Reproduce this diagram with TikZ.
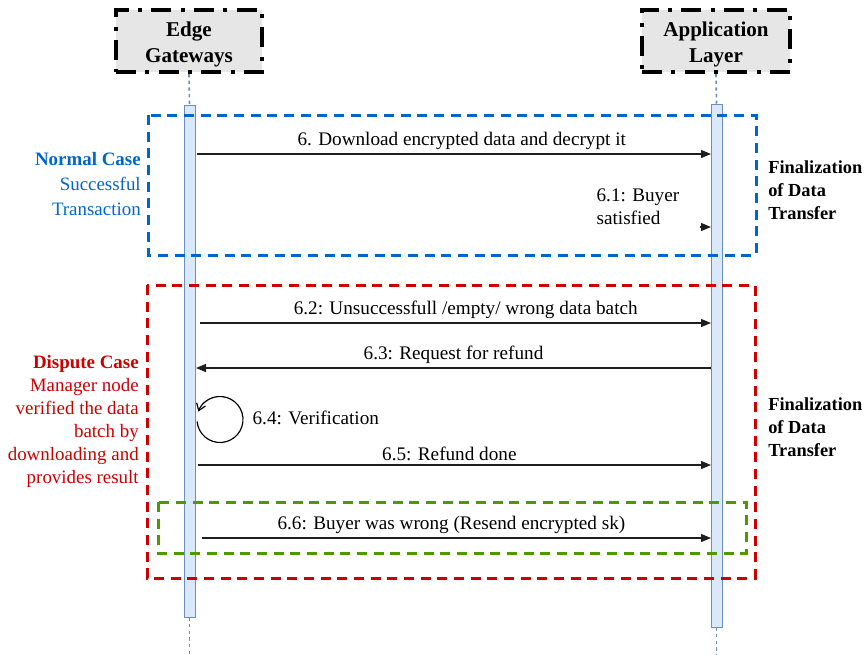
\documentclass[tikz,border=0pt]{standalone}
\usepackage{fontspec}
\setmainfont{Liberation Serif}
\usetikzlibrary{arrows.meta}
\definecolor{normal}{RGB}{0,102,204}
\definecolor{dispute}{RGB}{204,0,0}
\definecolor{resend}{RGB}{77,153,0}
\definecolor{life}{RGB}{108,142,191}
\definecolor{barfill}{RGB}{218,232,252}
\definecolor{headfill}{RGB}{230,230,230}
\definecolor{shaft}{RGB}{30,30,30}
\tikzset{
  head/.style={draw, fill=headfill, line width=3pt, dash pattern=on 15pt off 7pt on 3pt off 7pt, minimum width=#1, minimum height=46.5pt, inner sep=0pt},
  headtxt/.style={align=center, font=\fontsize{15.8}{19.5}\selectfont\bfseries, inner sep=0pt, yshift=-2.5pt},
  actbar/.style={draw=life, fill=barfill, minimum width=8.25pt, minimum height=#1, inner sep=0pt},
  lifeline/.style={life, line width=1.2pt, dash pattern=on 2.5pt off 2.5pt},
  msg/.style={-{Triangle[length=7.5pt,width=6pt]}, line width=0.9pt, shaft},
  lab/.style={font=\fontsize{14.4}{17.25}\selectfont, inner sep=1pt, text=black},
  frame/.style={draw=#1, line width=2.25pt, dash pattern=on 7.5pt off 5pt},
  casetxt/.style={align=right, text=#1, anchor=east, inner sep=0pt},
  fintxt/.style={font=\fontsize{13.8}{17.25}\selectfont\bfseries, align=left, anchor=west, inner sep=0pt},
}
\begin{document}
\begin{tikzpicture}[x=0.75pt,y=-0.75pt]
  \useasboundingbox (0,0) rectangle (868,654);
  % heads and activation bars
  \node[head=109.5pt, label={[headtxt]center:Edge\\Gateways}] (gw) at (189,41) {};
  \node[head=111pt, label={[headtxt]center:Application\\Layer}] (app) at (716,41) {};
  \node[actbar=384pt] (gwbar) at (189.5,361) {};
  \node[actbar=392.25pt] (appbar) at (716.5,365.5) {};
  \coordinate (gwend) at (189.5,654);
  \coordinate (append) at (716.5,654);
  \draw[lifeline] (gw.south) -- (gwbar.north);
  \draw[lifeline] (gwbar.south) -- (gwend);
  \draw[lifeline] (app.south) -- (appbar.north);
  \draw[lifeline] (appbar.south) -- (append);
  % case frames
  \draw[frame=normal] (148,115) rectangle (756,255);
  \draw[frame=dispute] (147,285) rectangle (755,578);
  \draw[frame=resend] (158,502) rectangle (746,553);
  % side texts
  \node[casetxt=normal, font=\fontsize{14.2}{18.75}\selectfont] (normal) at (141,184) {\textbf{Normal Case}\\Successful\\Transaction};
  \node[casetxt=dispute, font=\fontsize{14.2}{17.25}\selectfont] (dispute) at (139,421) {\textbf{Dispute Case}\\Manager node\\verified the data\\batch by\\downloading and\\provides result};
  \node[fintxt] (fin1) at (768,190) {Finalization\\of Data\\Transfer};
  \node[fintxt] (fin2) at (768,427) {Finalization\\of Data\\Transfer};
  % messages
  \coordinate (g6) at (197,154);   \coordinate (a6) at (711,154);
  \coordinate (s61) at (700,227);  \coordinate (a61) at (711,227);
  \coordinate (g62) at (200,323);  \coordinate (a62) at (711,323);
  \coordinate (g63) at (196,368);  \coordinate (a63) at (711,368);
  \coordinate (g65) at (198,465);  \coordinate (a65) at (711,465);
  \coordinate (g66) at (202,538);  \coordinate (a66) at (711,538);
  \draw[msg] (g6) -- node[lab, above=2pt, pos=.515]{6. Download encrypted data and decrypt it} (a6);
  \node[lab, align=left, anchor=west] (m61) at (595,207) {6.1: Buyer\\satisfied};
  \draw[msg] (s61) -- (a61);
  \draw[msg] (g62) -- node[lab, above=2pt, pos=.52]{6.2: Unsuccessfull /empty/ wrong data batch} (a62);
  \draw[msg] (a63) -- node[lab, above=2pt]{6.3: Request for refund} (g63);
  \draw[-{Straight Barb[length=5pt,width=7pt]}, line width=0.9pt] (220,419.5) ++(-185:23) arc[start angle=-185, end angle=-520, radius=23];
  \node[lab, anchor=west] (m64) at (251,418) {6.4: Verification};
  \draw[msg] (g65) -- node[lab, above=2pt, pos=.49]{6.5: Refund done} (a65);
  \draw[msg] (g66) -- node[lab, above=2pt, pos=.49]{6.6: Buyer was wrong (Resend encrypted sk)} (a66);
\end{tikzpicture}
\end{document}
